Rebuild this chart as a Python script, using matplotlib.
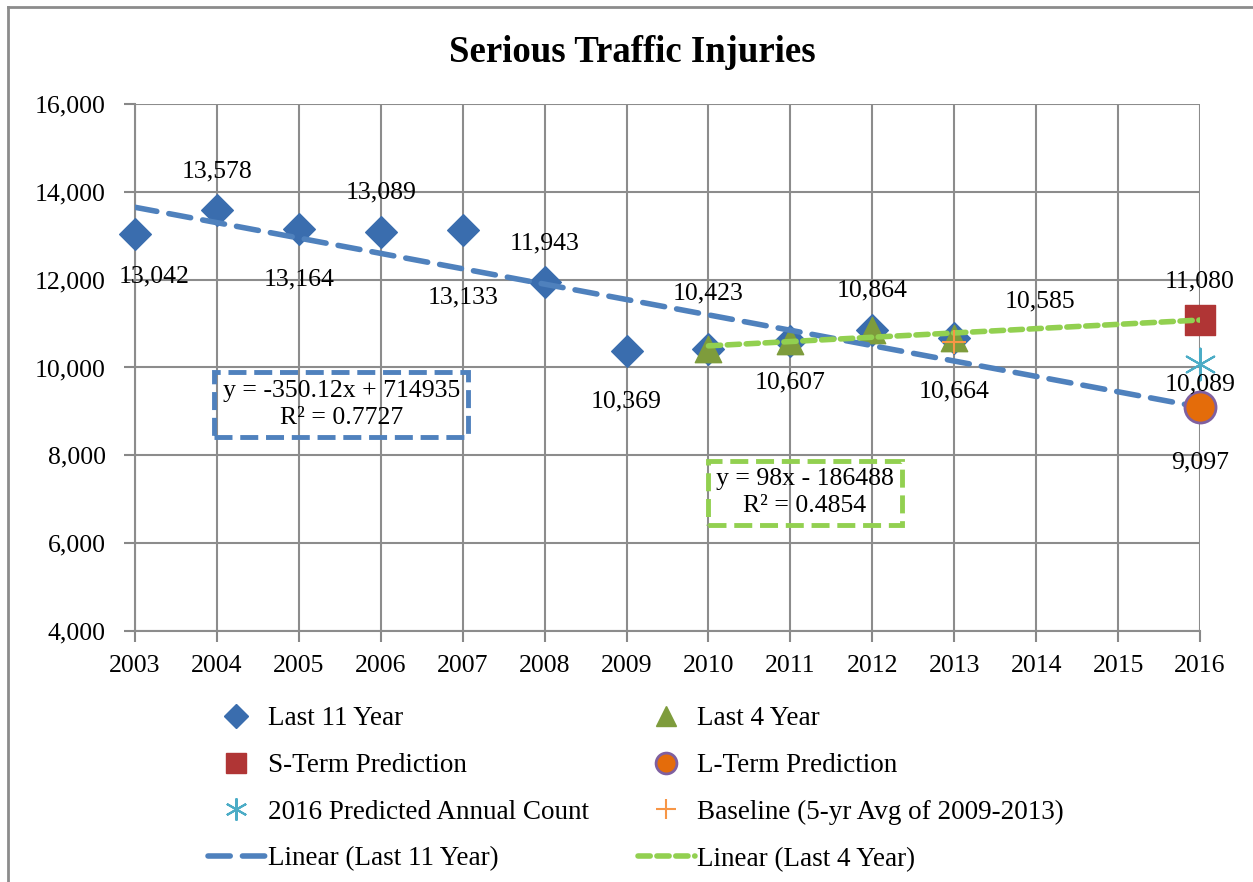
import numpy as np
import matplotlib
matplotlib.use("Agg")
import matplotlib.pyplot as plt
from matplotlib.lines import Line2D

plt.rcParams['font.family'] = ['Liberation Serif', 'DejaVu Serif']

# data
years_11 = [2003, 2004, 2005, 2006, 2007, 2008, 2009, 2010, 2011, 2012, 2013]
injuries_11 = [13042, 13578, 13164, 13089, 13133, 11943, 10369, 10423, 10607, 10864, 10664]
years_4 = [2010, 2011, 2012, 2013]
injuries_4 = [10423, 10607, 10864, 10664]
baseline_year = [2013]
baseline_val = [10585]
pred_year = [2016]
s_term = [11080]
l_term = [9097]
annual_count = [10089]
year_ticks = list(range(2003, 2017))
y_ticks = [4000, 6000, 8000, 10000, 12000, 14000, 16000]

fig = plt.figure(figsize=(12.53, 8.82), dpi=100)
ax = fig.add_axes([0.1077, 0.2846, 0.8500, 0.5975])

# trend lines (least squares, like Excel)
fit11 = np.polyfit(years_11, injuries_11, 1)
fit4 = np.polyfit(years_4, injuries_4, 1)
tx11 = np.array([2003, 2016])
tx4 = np.array([2010, 2016])
ax.plot(tx11, np.polyval(fit11, tx11), color='#4F81BD', lw=4, dashes=(4, 2.2),
        dash_capstyle='round', zorder=4)
ax.plot(tx4, np.polyval(fit4, tx4), color='#92D050', lw=4, dashes=(2.2, 1.2),
        dash_capstyle='round', zorder=4)

ax.scatter(years_11, injuries_11, marker='D', s=260, color='#3A6DAE', zorder=3, clip_on=False)
ax.scatter(years_4, injuries_4, marker='^', s=360, color='#7E9C3C', zorder=3.5, clip_on=False)
ax.scatter(baseline_year, baseline_val, marker='+', s=300, color='#F79646', lw=1.5, zorder=5,
           clip_on=False)
ax.scatter(pred_year, s_term, marker='s', s=440, color='#B03535', zorder=3, clip_on=False)
ax.scatter(pred_year, l_term, marker='o', s=500, color='#E46C0A', edgecolor='#7F60A0',
           lw=2, zorder=5, clip_on=False)
ax.scatter(pred_year, annual_count, marker=(6, 2, 0), s=520, color='#4BACC6', lw=1.5,
           zorder=3, clip_on=False)

# data labels (offsets in points)
offs_11 = [(14, -31), (0, 28), (0, -37), (0, 28), (0, -49), (0, 28),
           (0, -36), (0, 40), (0, -30), (0, 28), (0, -38)]
for x, v, (dx, dy) in zip(years_11, injuries_11, offs_11):
    ax.annotate(f'{v:,}', (x, v), xytext=(dx, dy), textcoords='offset points',
                ha='center', va='center', fontsize=18.5, zorder=6)
ax.annotate(f'{baseline_val[0]:,}', (baseline_year[0], baseline_val[0]), xytext=(62, 29),
            textcoords='offset points', ha='center', va='center', fontsize=18.5)
for v, dy in [(s_term[0], 28), (annual_count[0], -15), (l_term[0], -40)]:
    ax.annotate(f'{v:,}', (pred_year[0], v), xytext=(0, dy), textcoords='offset points',
                ha='center', va='center', fontsize=18.5, zorder=6)

# trend line equation boxes
ax.text(0.1937, 0.4300, 'y = -350.12x + 714935\nR² = 0.7727', transform=ax.transAxes,
        ha='center', va='center', fontsize=18.5, linespacing=1.3,
        bbox=dict(boxstyle='square,pad=0.32', fc='none', ec='#4F81BD', lw=3.5, ls='--'))
ax.text(0.6290, 0.2620, 'y = 98x - 186488\nR² = 0.4854', transform=ax.transAxes,
        ha='center', va='center', fontsize=18.5, linespacing=1.3,
        bbox=dict(boxstyle='square,pad=0.3', fc='none', ec='#92D050', lw=3.5, ls='--'))

ax.set_xlim(2003, 2016)
ax.set_ylim(4000, 16000)
ax.set_xticks(year_ticks)
ax.set_yticks(y_ticks)
ax.set_yticklabels([f'{t:,}' for t in y_ticks])
ax.tick_params(labelsize=18.5, length=8, width=1.5, color='#888888')
ax.tick_params(axis='y', pad=13)
ax.tick_params(axis='x', pad=9)
ax.grid(True, color='#8C8C8C', lw=1.5)
ax.set_axisbelow(True)
for sp in ['top', 'right']:
    ax.spines[sp].set_visible(False)
for sp in ['left', 'bottom']:
    ax.spines[sp].set_color('#8C8C8C')
    ax.spines[sp].set_linewidth(1.5)

fig.text(0.5044, 0.941, 'Serious Traffic Injuries', ha='center', va='center',
         fontsize=26.5, fontweight='bold')

# legend
handles = [
    Line2D([], [], ls='none', marker='D', ms=12, color='#3A6DAE'),
    Line2D([], [], ls='none', marker='s', ms=15, color='#B03535'),
    Line2D([], [], ls='none', marker=(6, 2, 0), ms=16, mew=1.5, color='#4BACC6'),
    Line2D([], [], color='#4F81BD', lw=4, dashes=(4, 2.2), dash_capstyle='round'),
    Line2D([], [], ls='none', marker='^', ms=14, color='#7E9C3C'),
    Line2D([], [], ls='none', marker='o', ms=15, color='#E46C0A', mec='#7F60A0', mew=2),
    Line2D([], [], ls='none', marker='+', ms=15, mew=1.5, color='#F79646'),
    Line2D([], [], color='#92D050', lw=4, dashes=(2.2, 1.2), dash_capstyle='round'),
]
labels = ['Last 11 Year', 'S-Term Prediction', '2016 Predicted Annual Count',
          'Linear (Last 11 Year)', 'Last 4 Year', 'L-Term Prediction',
          'Baseline (5-yr Avg of 2009-2013)', 'Linear (Last 4 Year)']
fig.legend(handles, labels, ncol=2, loc='upper left', bbox_to_anchor=(0.166, 0.199),
           frameon=False, fontsize=19.5, handlelength=2.1, handletextpad=0.1,
           columnspacing=1.82, labelspacing=0.8, borderpad=0, borderaxespad=0)

# chart border (left and top edges visible)
fig.add_artist(Line2D([0.0064, 0.0064], [0, 0.992], color='#8C8C8C', lw=2,
                      transform=fig.transFigure))
fig.add_artist(Line2D([0.0064, 1], [0.992, 0.992], color='#8C8C8C', lw=2,
                      transform=fig.transFigure))

fig.savefig('out.png', dpi=100)
